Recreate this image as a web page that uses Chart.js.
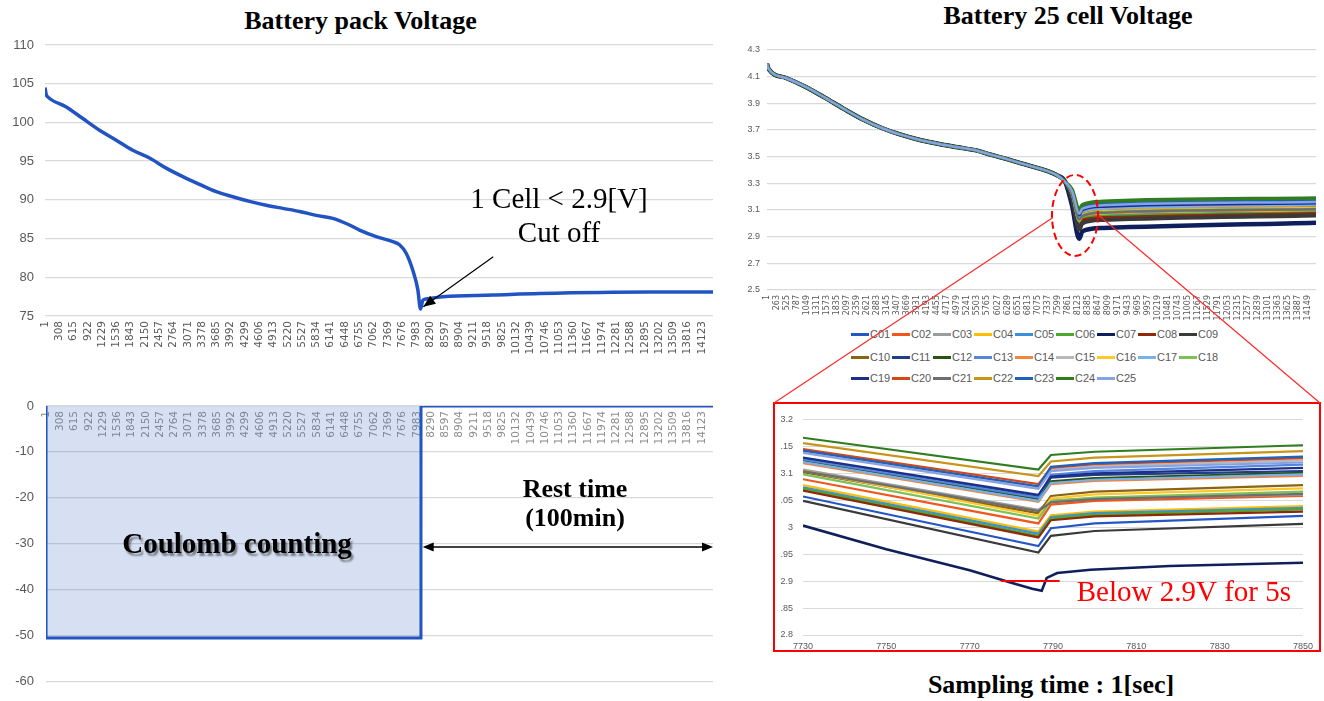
<!DOCTYPE html>
<html>
<head>
<meta charset="utf-8">
<title>Battery discharge test</title>
<script src="https://cdn.jsdelivr.net/npm/chart.js@4.4.0/dist/chart.umd.min.js"></script>
<style>
  body { margin: 0; background: #fff; }
  #page { position: relative; width: 1324px; height: 701px; overflow: hidden; font-family: 'Liberation Sans', sans-serif; }
  canvas { position: absolute; }
  .title { position: absolute; font: bold 26px 'Liberation Serif', serif; line-height: 30px; text-align: center; color: #000; white-space: nowrap; }
  #zoomFrame { position: absolute; left: 773px; top: 402px; width: 548px; height: 250px; border: 2px solid #ff0000; box-sizing: border-box; }
  .legendRow { position: absolute; left: 851px; height: 14px; display: flex; }
  .legendItem { width: 41px; display: flex; align-items: center; font-size: 11px; color: #595959; }
  .legendItem .sw { width: 18px; height: 3px; margin-right: 1px; }
</style>
</head>
<body>
<div id="page">
  <div class="title" style="left:0; width:721px; top:6px;">Battery pack Voltage</div>
  <div class="title" style="left:868px; width:400px; top:1px;">Battery 25 cell Voltage</div>
  <div class="title" style="left:851px; width:400px; top:670px;">Sampling time : 1[sec]</div>

  <canvas id="packChart" width="720" height="370" style="left:0; top:0;"></canvas>
  <canvas id="currentChart" width="720" height="331" style="left:0; top:370px;"></canvas>
  <canvas id="cellChart" width="604" height="322" style="left:720px; top:0;"></canvas>
  <div id="legend"></div>
  <div id="zoomFrame"></div>
  <canvas id="zoomChart" width="539" height="247" style="left:780px; top:404px;"></canvas>
  <canvas id="overlay" width="1324" height="701" style="left:0; top:0; pointer-events:none;"></canvas>
</div>

<script>
// x-axis labels (sample index, 1 s per sample)
const packTicks = [1, 308, 615, 922, 1229, 1536, 1843, 2150, 2457, 2764, 3071, 3378, 3685, 3992, 4299, 4606,
  4913, 5220, 5527, 5834, 6141, 6448, 6755, 7062, 7369, 7676, 7983, 8290, 8597, 8904, 9211, 9518, 9825,
  10132, 10439, 10746, 11053, 11360, 11667, 11974, 12281, 12588, 12895, 13202, 13509, 13816, 14123];
const cellTicks = [1, 263, 525, 787, 1049, 1311, 1573, 1835, 2097, 2359, 2621, 2883, 3145, 3407, 3669, 3931,
  4193, 4455, 4717, 4979, 5241, 5503, 5765, 6027, 6289, 6551, 6813, 7075, 7337, 7599, 7861, 8123, 8385,
  8647, 8909, 9171, 9433, 9695, 9957, 10219, 10481, 10743, 11005, 11267, 11529, 11791, 12053, 12315,
  12577, 12839, 13101, 13363, 13625, 13887, 14149];
const zoomTicks = [7730, 7750, 7770, 7790, 7810, 7830, 7850];

// pack voltage [V]
const packTime = [1, 27, 61, 457, 814, 1173, 1532, 1888, 2248, 2606, 2963, 3322, 3681, 4038, 4397, 4756,
  5113, 5472, 5831, 6188, 6547, 6762, 7121, 7477, 7621, 7765, 7907, 8015, 8073, 8120, 8195, 8552, 9627,
  10631, 12995, 14360];
const packVolt = [104.5, 103.6, 103.3, 102.0, 100.5, 99.0, 97.7, 96.4, 95.4, 94.1, 93.0, 92.0, 91.05, 90.4,
  89.8, 89.3, 88.9, 88.5, 88.0, 87.6, 86.75, 86.1, 85.25, 84.6, 84.2, 83.1, 80.9, 78.4, 75.9, 77.0, 77.2,
  77.5, 77.7, 77.9, 78.1, 78.1];

// pack current [A]
const currentTime = [1, 2, 8073, 8074, 14360];
const currentAmp = [0, -50.6, -50.6, 0, 0];

// cells
const cellNames = ['C01', 'C02', 'C03', 'C04', 'C05', 'C06', 'C07', 'C08', 'C09', 'C10', 'C11', 'C12', 'C13',
  'C14', 'C15', 'C16', 'C17', 'C18', 'C19', 'C20', 'C21', 'C22', 'C23', 'C24', 'C25'];
const cellColors = ['#2457c5', '#f0561d', '#9c9c9c', '#ffbf00', '#3d8fd9', '#4ea72e', '#0f1f5c', '#8e2a0b',
  '#3a3a3a', '#8a6414', '#1f3f87', '#2a5318', '#5586dd', '#f28443', '#b8b8b8', '#ffc82a', '#76b2e8',
  '#7dc055', '#1c2f8a', '#d3481b', '#6e6e6e', '#c8951a', '#1e62b9', '#2f7d1f', '#87a3e6'];

// discharge part, all cells on top of each other
const cellTime = [1, 40, 500, 1000, 1500, 2000, 2500, 3000, 3500, 4000, 4500, 5000, 5500, 5850, 6300, 6950,
  7300, 7590, 7800];
const cellCommon = [4.195, 4.16, 4.09, 4.025, 3.945, 3.86, 3.78, 3.715, 3.665, 3.625, 3.595, 3.57, 3.545,
  3.515, 3.48, 3.425, 3.395, 3.36, 3.31];

// after cut-off: each cell separately
const cellTailTime = [7980, 8165, 8250, 8800, 14358];
const cellTail = [
  [3.19, 2.965, 3.015, 3.040, 3.070],   // C01
  [3.21, 3.007, 3.050, 3.075, 3.100],   // C02
  [3.22, 3.032, 3.060, 3.080, 3.105],   // C03
  [3.20, 2.992, 3.035, 3.060, 3.085],   // C04
  [3.20, 2.988, 3.030, 3.055, 3.080],   // C05
  [3.20, 2.984, 3.030, 3.050, 3.078],   // C06
  [3.13, 2.884, 2.940, 2.965, 3.005],   // C07
  [3.195, 2.981, 3.025, 3.045, 3.075],  // C08
  [3.18, 2.953, 3.000, 3.025, 3.058],   // C09
  [3.22, 3.026, 3.070, 3.095, 3.120],   // C10
  [3.235, 3.057, 3.100, 3.120, 3.145],  // C11
  [3.23, 3.052, 3.095, 3.115, 3.140],   // C12
  [3.235, 3.055, 3.105, 3.130, 3.158],  // C13
  [3.23, 3.047, 3.090, 3.110, 3.135],   // C14
  [3.24, 3.073, 3.115, 3.140, 3.165],   // C15
  [3.22, 3.021, 3.065, 3.090, 3.115],   // C16
  [3.23, 3.049, 3.090, 3.112, 3.140],   // C17
  [3.215, 3.016, 3.060, 3.085, 3.110],  // C18
  [3.235, 3.060, 3.100, 3.125, 3.150],  // C19
  [3.245, 3.080, 3.120, 3.145, 3.170],  // C20
  [3.22, 3.030, 3.055, 3.080, 3.105],   // C21
  [3.25, 3.095, 3.130, 3.155, 3.180],   // C22
  [3.245, 3.076, 3.120, 3.148, 3.172],  // C23
  [3.255, 3.107, 3.140, 3.165, 3.190],  // C24
  [3.24, 3.071, 3.110, 3.135, 3.160]    // C25
];

// close-up around the cut-off
const zoomTime = [7730, 7786.5, 7789.5, 7800, 7850];
const zoomVolt = [
  [3.057, 2.965, 2.998, 3.007, 3.021],  // C01
  [3.089, 3.007, 3.042, 3.049, 3.058],  // C02
  [3.107, 3.032, 3.050, 3.054, 3.060],  // C03
  [3.078, 2.992, 3.022, 3.029, 3.039],  // C04
  [3.074, 2.988, 3.019, 3.026, 3.036],  // C05
  [3.071, 2.984, 3.016, 3.023, 3.033],  // C06
  null,                                  // C07 -> c07Time / c07Volt
  [3.068, 2.981, 3.013, 3.020, 3.029],  // C08
  [3.049, 2.953, 2.984, 2.993, 3.006],  // C09
  [3.102, 3.026, 3.058, 3.066, 3.078],  // C10
  [3.127, 3.057, 3.092, 3.097, 3.104],  // C11
  [3.124, 3.052, 3.085, 3.091, 3.101],  // C12
  [3.126, 3.055, 3.097, 3.104, 3.116],  // C13
  [3.119, 3.047, 3.080, 3.086, 3.095],  // C14
  [3.140, 3.073, 3.106, 3.113, 3.124],  // C15
  [3.105, 3.021, 3.053, 3.061, 3.072],  // C16
  [3.121, 3.049, 3.082, 3.088, 3.098],  // C17
  [3.098, 3.016, 3.048, 3.055, 3.066],  // C18
  [3.129, 3.060, 3.094, 3.100, 3.110],  // C19
  [3.145, 3.080, 3.110, 3.117, 3.128],  // C20
  [3.104, 3.030, 3.046, 3.052, 3.062],  // C21
  [3.156, 3.095, 3.122, 3.129, 3.141],  // C22
  [3.142, 3.076, 3.112, 3.119, 3.131],  // C23
  [3.166, 3.107, 3.134, 3.140, 3.152],  // C24
  [3.138, 3.071, 3.104, 3.110, 3.120]   // C25
];
// weakest cell, more points
const c07Time = [7730, 7750, 7770, 7780, 7785, 7787.3, 7788.5, 7791, 7799, 7818, 7850];
const c07Volt = [3.003, 2.959, 2.920, 2.897, 2.886, 2.882, 2.906, 2.915, 2.921, 2.928, 2.934];

Chart.defaults.font.family = "'Liberation Sans', sans-serif";

const xy = (xs, ys) => xs.map((x, i) => ({ x: x, y: ys[i] }));
const serif = (size, bold) => (bold ? 'bold ' : '') + size + "px 'Liberation Serif', serif";

function arrowHead(ctx, x0, y0, x1, y1, len, half) {
  const a = Math.atan2(y1 - y0, x1 - x0);
  ctx.beginPath();
  ctx.moveTo(x1, y1);
  ctx.lineTo(x1 - len * Math.cos(a) + half * Math.sin(a), y1 - len * Math.sin(a) - half * Math.cos(a));
  ctx.lineTo(x1 - len * Math.cos(a) - half * Math.sin(a), y1 - len * Math.sin(a) + half * Math.cos(a));
  ctx.closePath();
  ctx.fill();
}

function sampleAxis(ticks, min, max, height, fontSize, color) {
  return {
    type: 'linear', min: min, max: max,
    afterBuildTicks: s => { s.ticks = ticks.map(v => ({ value: v })); },
    afterFit: s => { s.height = height; },
    grid: { display: false, drawTicks: false },
    border: { display: false },
    ticks: { autoSkip: false, minRotation: 90, maxRotation: 90, padding: 5, color: color,
      font: { size: fontSize, family: "'DejaVu Sans', sans-serif" }, callback: v => String(v) }
  };
}

// ---- pack voltage ----
const cutoffNote = {
  id: 'cutoffNote',
  afterDraw(chart) {
    const { ctx, scales: { x, y } } = chart;
    ctx.save();
    ctx.fillStyle = '#000';
    ctx.font = serif(29, false);
    ctx.textAlign = 'center';
    ctx.fillText('1 Cell < 2.9[V]', x.getPixelForValue(11050), y.getPixelForValue(88.95));
    ctx.fillText('Cut off', x.getPixelForValue(11050), y.getPixelForValue(84.6));
    const x0 = x.getPixelForValue(9637), y0 = y.getPixelForValue(82.66);
    const x1 = x.getPixelForValue(8133), y1 = y.getPixelForValue(76.2);
    ctx.strokeStyle = '#000';
    ctx.lineWidth = 1.2;
    ctx.beginPath();
    ctx.moveTo(x0, y0);
    ctx.lineTo(x1, y1);
    ctx.stroke();
    arrowHead(ctx, x0, y0, x1, y1, 12, 5);
    ctx.restore();
  }
};

new Chart(document.getElementById('packChart'), {
  type: 'line',
  data: { datasets: [{ data: xy(packTime, packVolt), borderColor: '#2253c2', borderWidth: 3.5,
    pointRadius: 0, cubicInterpolationMode: 'monotone' }] },
  options: {
    responsive: false, animation: false,
    layout: { padding: { top: 45, right: 7 } },
    plugins: { legend: { display: false }, tooltip: { enabled: false } },
    scales: {
      x: sampleAxis(packTicks, 1, 14360, 54, 10.5, '#595959'),
      y: { min: 75, max: 110, afterFit: s => { s.width = 45; },
        grid: { color: '#d9d9d9', lineWidth: 1.3, drawTicks: false }, border: { display: false },
        ticks: { stepSize: 5, padding: 11, color: '#595959', font: { size: 13 } } }
    }
  },
  plugins: [cutoffNote]
});

// ---- pack current ----
const phaseNote = {
  id: 'phaseNote',
  afterDraw(chart) {
    const { ctx, scales: { x, y } } = chart;
    ctx.save();
    ctx.textAlign = 'center';
    ctx.fillStyle = '#000';
    ctx.font = serif(29, true);
    ctx.shadowColor = 'rgba(0,0,0,0.45)';
    ctx.shadowOffsetX = 2;
    ctx.shadowOffsetY = 3;
    ctx.shadowBlur = 2;
    ctx.fillText('Coulomb counting', x.getPixelForValue(4113), y.getPixelForValue(-31.97));
    ctx.shadowColor = 'transparent';
    ctx.font = serif(26, true);
    ctx.fillText('Rest time', x.getPixelForValue(11389), y.getPixelForValue(-19.87));
    ctx.fillText('(100min)', x.getPixelForValue(11389), y.getPixelForValue(-26.1));
    const ya = y.getPixelForValue(-30.73);
    const xa = x.getPixelForValue(8110), xb = x.getPixelForValue(14360);
    ctx.strokeStyle = '#000';
    ctx.lineWidth = 1.5;
    ctx.beginPath();
    ctx.moveTo(xa + 4, ya);
    ctx.lineTo(xb - 4, ya);
    ctx.stroke();
    arrowHead(ctx, xb, ya, xa, ya, 11, 4.5);
    arrowHead(ctx, xa, ya, xb, ya, 11, 4.5);
    ctx.restore();
  }
};

new Chart(document.getElementById('currentChart'), {
  type: 'line',
  data: { datasets: [{ data: xy(currentTime, currentAmp), borderColor: '#2253c2', borderWidth: 3,
    backgroundColor: 'rgba(68,114,196,0.22)', fill: 'origin', pointRadius: 0, tension: 0 }] },
  options: {
    responsive: false, animation: false,
    layout: { padding: { top: 36, right: 7, bottom: 6 } },
    plugins: { legend: { display: false }, tooltip: { enabled: false } },
    scales: {
      x: Object.assign(sampleAxis(packTicks, 1, 14360, 0, 10.5, '#8c8c8c'), { position: { y: 0 } }),
      y: { min: -60, max: 0, afterFit: s => { s.width = 46; },
        grid: { color: '#d9d9d9', lineWidth: 1.3, drawTicks: false }, border: { display: false },
        ticks: { stepSize: 10, padding: 12, color: '#595959', font: { size: 13 } } }
    }
  },
  plugins: [phaseNote]
});

// ---- 25 cell voltages ----
const cutoffMark = { t: 8055, v: 3.059, rx: 23, ry: 40.5 };
const ellipseNote = {
  id: 'ellipseNote',
  afterDraw(chart) {
    const { ctx, scales: { x, y } } = chart;
    ctx.save();
    ctx.strokeStyle = '#ff0000';
    ctx.lineWidth = 2;
    ctx.setLineDash([7, 4]);
    ctx.beginPath();
    ctx.ellipse(x.getPixelForValue(cutoffMark.t), y.getPixelForValue(cutoffMark.v), cutoffMark.rx, cutoffMark.ry, 0, 0, Math.PI * 2);
    ctx.stroke();
    ctx.restore();
  }
};

const cellWidth = name => ({ C07: 4.5, C09: 4, C24: 3.5, C06: 3.5 }[name] || 2.5);

const cellChart = new Chart(document.getElementById('cellChart'), {
  type: 'line',
  data: {
    datasets: cellNames.map((name, i) => ({
      label: name,
      data: xy(cellTime.concat(cellTailTime), cellCommon.concat(cellTail[i])),
      borderColor: cellColors[i], borderWidth: cellWidth(name),
      pointRadius: 0, cubicInterpolationMode: 'monotone', order: cellNames.length - i
    }))
  },
  options: {
    responsive: false, animation: false,
    layout: { padding: { top: 50, right: 8 } },
    plugins: { legend: { display: false }, tooltip: { enabled: false } },
    scales: {
      x: sampleAxis(cellTicks, 1, 14358, 32, 8, '#595959'),
      y: { min: 2.5, max: 4.3, afterFit: s => { s.width = 47; },
        grid: { color: '#d9d9d9', lineWidth: 1.2, drawTicks: false }, border: { display: false },
        ticks: { stepSize: 0.2, padding: 7, color: '#595959', font: { size: 9 }, callback: v => v.toFixed(1) } }
    }
  },
  plugins: [ellipseNote]
});

// legend, 9 entries per row
const legend = document.getElementById('legend');
const rowTops = [327, 350, 371];
for (let r = 0; r < 3; r++) {
  const row = document.createElement('div');
  row.className = 'legendRow';
  row.style.top = rowTops[r] + 'px';
  cellNames.slice(r * 9, r * 9 + 9).forEach((name, k) => {
    const item = document.createElement('div');
    item.className = 'legendItem';
    item.innerHTML = '<span class="sw" style="background:' + cellColors[r * 9 + k] + '"></span>' + name;
    row.appendChild(item);
  });
  legend.appendChild(row);
}

// ---- close-up 7730 .. 7850 s ----
const limitNote = {
  id: 'limitNote',
  afterDraw(chart) {
    const { ctx, scales: { x, y } } = chart;
    ctx.save();
    ctx.strokeStyle = '#ff0000';
    ctx.lineWidth = 2;
    ctx.beginPath();
    ctx.moveTo(x.getPixelForValue(7777.5), y.getPixelForValue(2.9));
    ctx.lineTo(x.getPixelForValue(7791.6), y.getPixelForValue(2.9));
    ctx.stroke();
    ctx.fillStyle = '#ff0000';
    ctx.font = serif(29, false);
    ctx.fillText('Below 2.9V for 5s', x.getPixelForValue(7795.7), y.getPixelForValue(2.863));
    ctx.restore();
  }
};

new Chart(document.getElementById('zoomChart'), {
  type: 'line',
  data: {
    datasets: cellNames.map((name, i) => ({
      label: name,
      data: zoomVolt[i] ? xy(zoomTime, zoomVolt[i]) : xy(c07Time, c07Volt),
      borderColor: cellColors[i], borderWidth: name === 'C07' ? 2.6 : 2.2,
      pointRadius: 0, tension: 0, order: cellNames.length - i
    }))
  },
  options: {
    responsive: false, animation: false,
    layout: { padding: { top: 9, right: 14 } },
    plugins: { legend: { display: false }, tooltip: { enabled: false } },
    scales: {
      x: { type: 'linear', min: 7730, max: 7850,
        afterBuildTicks: s => { s.ticks = zoomTicks.map(v => ({ value: v })); },
        afterFit: s => { s.height = 16; },
        grid: { display: false, drawTicks: false }, border: { display: false },
        ticks: { autoSkip: false, maxRotation: 0, padding: 6, color: '#595959', font: { size: 9 },
          callback: v => String(v) } },
      y: { min: 2.8, max: 3.2, afterFit: s => { s.width = 23; },
        grid: { color: '#d9d9d9', lineWidth: 1, drawTicks: false }, border: { display: false },
        ticks: { stepSize: 0.05, padding: 10, color: '#595959', font: { size: 9 },
          callback: v => String(Math.round(v * 100) / 100) } }
    }
  },
  plugins: [limitNote]
});

// red guide lines from the marked region down to the close-up frame
const ov = document.getElementById('overlay').getContext('2d');
const cx = 720 + cellChart.scales.x.getPixelForValue(cutoffMark.t);
const cy = cellChart.scales.y.getPixelForValue(cutoffMark.v);
ov.strokeStyle = '#ff2a2a';
ov.lineWidth = 1.2;
ov.beginPath();
ov.moveTo(cx - cutoffMark.rx + 1, cy + 2);
ov.lineTo(774, 403);
ov.moveTo(cx + cutoffMark.rx + 1, cy);
ov.lineTo(1320, 403);
ov.stroke();
</script>
</body>
</html>
